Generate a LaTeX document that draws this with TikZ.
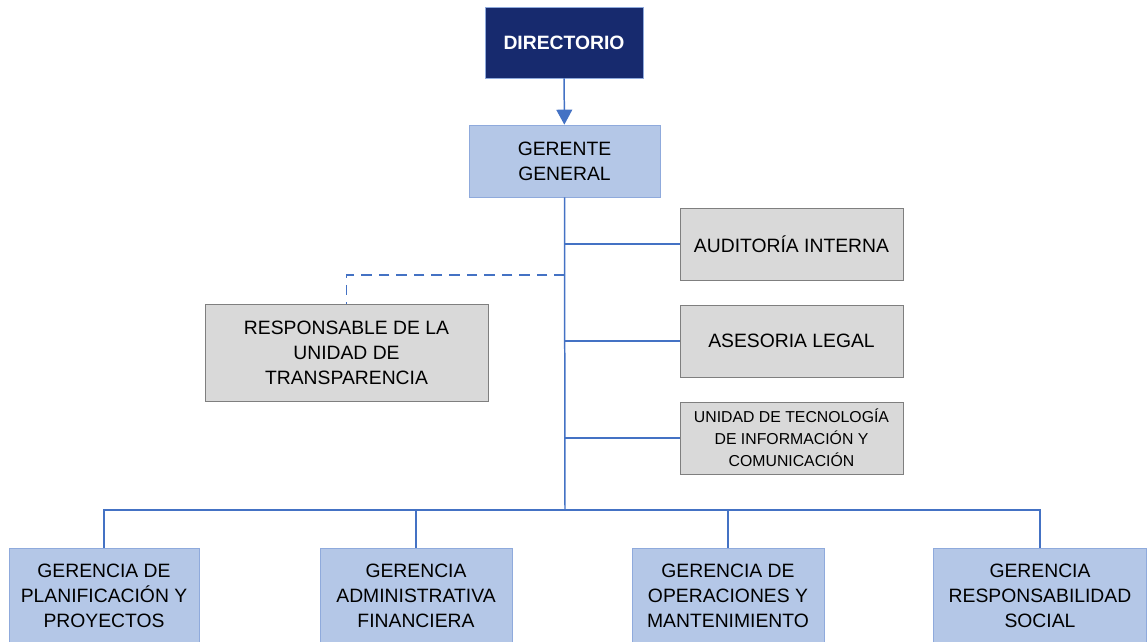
\documentclass[tikz,border=0pt]{standalone}
\usepackage{fontspec}
\setmainfont{Liberation Sans}
\usetikzlibrary{arrows.meta}
\definecolor{navybox}{HTML}{172A6E}
\definecolor{bluebox}{HTML}{B4C7E7}
\definecolor{blueline}{HTML}{4472C4}
\definecolor{blueedge}{HTML}{8FAADC}
\definecolor{graybox}{HTML}{D9D9D9}
\definecolor{grayedge}{HTML}{7F7F7F}

\begin{document}
\begin{tikzpicture}[x=0.02cm, y=-0.02cm,
        board/.style=
            {
                rectangle,
                draw = blueedge,
                fill = navybox,
                text = white,
                align = center,
                font = \fontsize{11}{14.2}\selectfont\bfseries,
                minimum width = 3.16cm,
                minimum height = 1.42cm
            },
        manager/.style=
            {
                rectangle,
                draw = blueedge,
                fill = bluebox,
                align = center,
                font = \fontsize{11}{14.2}\selectfont,
                inner sep = 0pt
            },
        staff/.style=
            {
                rectangle,
                draw = grayedge,
                fill = graybox,
                align = center,
                font = \fontsize{11}{14.2}\selectfont,
                minimum width = 4.46cm,
                minimum height = 1.44cm,
                inner sep = 0pt
            },
        conn/.style=
            {
                draw = blueline,
                line width = 0.85pt
            }
    ]

    \useasboundingbox (0,0) rectangle (1147,642);
    \clip (0,0) rectangle (1147,642);

    \draw (564,42.5) node[board] (DIR) {DIRECTORIO};
    \draw (564.5,161) node[manager, minimum width = 3.82cm, minimum height = 1.44cm] (GG) {GERENTE\\GENERAL};

    \draw (791.5,244) node[staff] (AI) {AUDITOR\'IA INTERNA};
    \draw (791.5,341) node[staff] (AL) {ASESORIA LEGAL};
    \draw (791.5,438) node[staff, font = \fontsize{9}{12.5}\selectfont] (UT) {UNIDAD DE TECNOLOG\'IA\\DE INFORMACI\'ON Y\\COMUNICACI\'ON};
    \draw (346.5,352.5) node[staff, minimum width = 5.66cm, minimum height = 1.94cm] (RT) {RESPONSABLE DE LA\\UNIDAD DE\\TRANSPARENCIA};

    \draw (104,596) node[manager, minimum width = 3.8cm, minimum height = 1.92cm] (GP) {GERENCIA DE\\PLANIFICACI\'ON Y\\PROYECTOS};
    \draw (416,596) node[manager, minimum width = 3.84cm, minimum height = 1.92cm] (GA) {GERENCIA\\ADMINISTRATIVA\\FINANCIERA};
    \draw (728,596) node[manager, minimum width = 3.84cm, minimum height = 1.92cm] (GO) {GERENCIA DE\\OPERACIONES Y\\MANTENIMIENTO};
    \draw (1040,596) node[manager, minimum width = 4.26cm, minimum height = 1.92cm] (GR) {GERENCIA\\RESPONSABILIDAD\\SOCIAL};

    \coordinate (bus) at (565,510);
    \coordinate (dash) at (565,275);

    \draw[conn, -{Triangle[width=9pt,length=8.5pt]}] (DIR) -- (GG);
    \draw[conn] (GG.south) -- (bus);
    \draw[conn] (AI.west) -- (AI.west -| GG.south);
    \draw[conn] (AL.west) -- (AL.west -| GG.south);
    \draw[conn] (UT.west) -- (UT.west -| GG.south);
    \draw[conn, dash pattern = on 6pt off 4pt] (dash) -| (RT.north);

    \draw[conn] (GP.north) |- (bus) -| (GR.north);
    \draw[conn] (GA.north) -- (GA.north |- bus);
    \draw[conn] (GO.north) -- (GO.north |- bus);

\end{tikzpicture}
\end{document}
